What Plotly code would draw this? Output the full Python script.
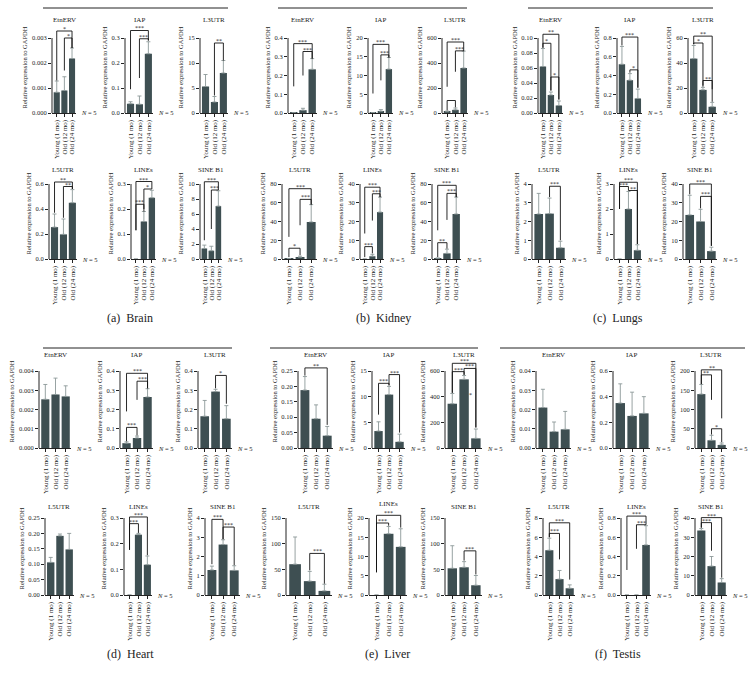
import plotly.graph_objects as go

W, H = 749, 679
categories = ["Young (1 mo)", "Old (12 mo)", "Old (24 mo)"]
genes = ["EtnERV", "IAP", "L3UTR", "L5UTR", "LINEs", "SINE B1"]
captions = ["(a)  Brain", "(b)  Kidney", "(c)  Lungs", "(d)  Heart", "(e)  Liver", "(f)  Testis"]

# ---------------- data (mean, top of error bar, y ticks, tick decimals, brackets) -------------
# bracket: (bar_i, bar_j, height, label, leg_bottom_i, leg_bottom_j)
brain_mean = [[0.00083, 0.0009, 0.00218], [0.037, 0.035, 0.237], [5.3, 2.2, 8.0],
              [0.255, 0.197, 0.45], [0, 0.15, 0.245], [1.4, 1.1, 7.05]]
brain_errtop = [[0.00128, 0.00145, 0.0026], [0.045, 0.068, 0.285], [7.7, 3.3, 10.5],
                [0.36, 0.32, 0.555], [0, 0.19, 0.275], [1.85, 1.7, 9.1]]
brain_ticks = [[0, 0.001, 0.002, 0.003], [0, 0.1, 0.2, 0.3], [0, 5, 10, 15],
               [0, 0.2, 0.4, 0.6], [0, 0.1, 0.2, 0.3], [0, 2, 4, 6, 8, 10]]
brain_dec = [3, 1, 0, 1, 1, 0]
brain_sig = [
    [(0, 2, 0.00328, "*", 0.0013, 0.0026), (1, 2, 0.003, "*", 0.0017, 0.0026)],
    [(0, 2, 0.33, "***", 0.095, 0.29), (1, 2, 0.297, "***", 0.14, 0.29)],
    [(1, 2, 14.0, "**", 3.5, 10.5)],
    [(0, 2, 0.616, "**", 0.37, 0.56), (1, 2, 0.58, "**", 0.33, 0.56)],
    [(0, 2, 0.31, "***", 0.115, 0.28), (1, 2, 0.28, "*", 0.2, 0.28), (0, 1, 0.219, "***", 0.115, 0.19)],
    [(0, 2, 10.3, "***", 2.5, 9.2), (1, 2, 9.2, "***", 4.0, 9.2)],
]

kidney_mean = [[0.001, 0.015, 0.233], [0.05, 0.45, 11.7], [10, 25, 360],
               [0.3, 1.8, 39.5], [0, 1.5, 25], [0.8, 6, 48]]
kidney_errtop = [[0.001, 0.025, 0.29], [0.1, 0.9, 14.8], [15, 40, 495],
                 [0.5, 3, 58], [0, 2.5, 33], [1, 10.5, 66]]
kidney_ticks = [[0, 0.1, 0.2, 0.3, 0.4], [0, 5, 10, 15, 20], [0, 200, 400, 600],
                [0, 20, 40, 60, 80], [0, 10, 20, 30, 40], [0, 20, 40, 60, 80]]
kidney_dec = [1, 0, 0, 0, 0, 0]
kidney_sig = [
    [(0, 2, 0.37, "***", 0.142, 0.29), (1, 2, 0.328, "***", 0.2, 0.29)],
    [(0, 2, 18.3, "***", 5.2, 14.8), (1, 2, 15.5, "***", 8.7, 14.8)],
    [(0, 2, 568, "***", 210, 495), (1, 2, 497, "***", 330, 495), (0, 1, 100, "", 20, 45)],
    [(0, 2, 75, "***", 23.6, 58), (1, 2, 63.6, "***", 36, 58), (0, 1, 11.5, "*", 2, 4)],
    [(0, 2, 38.3, "***", 13.6, 33), (1, 2, 34.8, "***", 20.5, 33), (0, 1, 6.6, "***", 1, 3)],
    [(0, 2, 78.6, "***", 30.6, 66), (1, 2, 70, "***", 41.7, 66), (0, 1, 17.4, "**", 2, 11)],
]

lungs_mean = [[0.062, 0.024, 0.01], [0.52, 0.35, 0.155], [43.5, 18.5, 5],
              [2.4, 2.42, 0.6], [0, 2.0, 0.35], [23.5, 20, 4.2]]
lungs_errtop = [[0.086, 0.028, 0.016], [0.71, 0.42, 0.255], [54, 20.5, 8.5],
                [3.5, 3.25, 0.95], [0, 2.7, 0.57], [34, 26.5, 6.3]]
lungs_ticks = [[0, 0.02, 0.04, 0.06, 0.08, 0.10], [0, 0.2, 0.4, 0.6, 0.8], [0, 20, 40, 60],
               [0, 1, 2, 3, 4], [0, 1, 2, 3], [0, 10, 20, 30, 40]]
lungs_dec = [2, 1, 0, 0, 0, 0]
lungs_sig = [
    [(0, 2, 0.105, "**", 0.087, 0.018), (0, 1, 0.093, "*", 0.087, 0.03), (1, 2, 0.048, "*", 0.03, 0.018)],
    [(0, 2, 0.81, "***", 0.72, 0.27), (1, 2, 0.46, "*", 0.43, 0.27)],
    [(0, 2, 61.5, "**", 55, 19), (0, 1, 56, "*", 55, 22), (1, 2, 26, "**", 21, 9)],
    [(1, 2, 3.88, "***", 3.3, 1.0)],
    [(0, 2, 3.07, "***", 2.0, 0.6), (0, 1, 2.9, "***", 2.0, 2.75), (1, 2, 2.74, "**", 2.75, 0.6)],
    [(0, 2, 40, "***", 34.5, 7), (1, 2, 33.4, "***", 27, 7)],
]

heart_mean = [[0.00253, 0.00278, 0.00268], [0.025, 0.052, 0.265], [0.165, 0.293, 0.152],
              [0.106, 0.192, 0.148], [0, 0.235, 0.118], [1.3, 2.62, 1.28]]
heart_errtop = [[0.0033, 0.00363, 0.00323], [0.032, 0.062, 0.308], [0.247, 0.305, 0.22],
                [0.122, 0.198, 0.2], [0, 0.24, 0.152], [1.5, 2.87, 1.52]]
heart_ticks = [[0, 0.001, 0.002, 0.003, 0.004], [0, 0.1, 0.2, 0.3, 0.4], [0, 0.1, 0.2, 0.3, 0.4],
               [0, 0.05, 0.1, 0.15, 0.2, 0.25], [0, 0.1, 0.2, 0.3], [0, 1, 2, 3, 4]]
heart_dec = [3, 1, 1, 2, 1, 0]
heart_sig = [
    [],
    [(0, 2, 0.388, "***", 0.19, 0.31), (1, 2, 0.347, "***", 0.25, 0.31), (0, 1, 0.107, "***", 0.035, 0.065)],
    [(1, 2, 0.377, "*", 0.31, 0.23)],
    [],
    [(0, 2, 0.304, "***", 0.176, 0.155), (0, 1, 0.278, "***", 0.176, 0.242)],
    [(0, 1, 3.93, "***", 1.6, 2.9), (1, 2, 3.53, "***", 2.9, 1.55)],
]

liver_mean = [[0.188, 0.095, 0.04], [3.3, 10.4, 1.2], [345, 535, 75],
              [60, 27, 8], [0, 15.9, 12.5], [52, 54, 19]]
liver_errtop = [[0.232, 0.14, 0.07], [5.1, 12, 2.7], [425, 565, 148],
                [113, 46, 21], [0, 17.8, 17.2], [96, 65, 38]]
liver_ticks = [[0, 0.05, 0.1, 0.15, 0.2, 0.25], [0, 5, 10, 15], [0, 200, 400, 600],
               [0, 50, 100, 150], [0, 5, 10, 15, 20], [0, 50, 100, 150]]
liver_dec = [2, 0, 0, 0, 0, 0]
liver_sig = [
    [(0, 2, 0.26, "**", 0.235, 0.075)],
    [(0, 1, 12.6, "***", 6.5, 12.2), (1, 2, 14.3, "***", 12.2, 3)],
    [(0, 2, 660, "***", 430, 160), (0, 1, 595, "***", 430, 570), (1, 2, 620, "***", 570, 160)],
    [(1, 2, 81, "***", 48, 22)],
    [(0, 2, 20.7, "***", 5.9, 17.5), (0, 1, 18.7, "***", 5.9, 18)],
    [(1, 2, 86, "***", 67, 40)],
]
liver_extra_marks = [(2, 2, 410, "*")]  # (subplot, bar, height, label)

testis_mean = [[0.021, 0.0085, 0.0097], [0.35, 0.25, 0.27], [140, 20, 8],
               [4.65, 1.65, 0.7], [0, 0, 0.52], [33.5, 15, 6.5]]
testis_errtop = [[0.0305, 0.0135, 0.019], [0.5, 0.435, 0.4], [165, 33, 13],
                 [5.9, 2.55, 1.05], [0, 0, 0.72], [34.5, 20, 8.5]]
testis_ticks = [[0, 0.01, 0.02, 0.03, 0.04], [0, 0.2, 0.4, 0.6], [0, 50, 100, 150, 200],
                [0, 2, 4, 6, 8], [0, 0.2, 0.4, 0.6, 0.8], [0, 10, 20, 30, 40]]
testis_dec = [2, 1, 0, 0, 1, 0]
testis_sig = [
    [], [],
    [(0, 2, 203, "**", 166, 77), (0, 1, 190, "**", 166, 125), (1, 2, 50, "*", 35, 15)],
    [(0, 2, 7.5, "***", 6, 1.6), (0, 1, 6.4, "***", 6, 3.7)],
    [(0, 2, 0.82, "***", 0.26, 0.73), (1, 2, 0.73, "***", 0.48, 0.73)],
    [(0, 2, 40.2, "***", 35, 9), (0, 1, 37.6, "***", 35, 23)],
]

tissue_data = [
    (brain_mean, brain_errtop, brain_ticks, brain_dec, brain_sig, []),
    (kidney_mean, kidney_errtop, kidney_ticks, kidney_dec, kidney_sig, []),
    (lungs_mean, lungs_errtop, lungs_ticks, lungs_dec, lungs_sig, []),
    (heart_mean, heart_errtop, heart_ticks, heart_dec, heart_sig, []),
    (liver_mean, liver_errtop, liver_ticks, liver_dec, liver_sig, liver_extra_marks),
    (testis_mean, testis_errtop, testis_ticks, testis_dec, testis_sig, []),
]

# ---------------- geometry (pixels) ----------------
row_zero = [113, 259, 448, 595]
row_top = [38, 184, 371, 518]
row_title = [20, 170, 355, 507]
title_shift = {(4, 4): -3}
geom = [
    [(52, 76), (125, 153), (200, 228), (49, 77), (131, 156), (200, 222)],
    [(288, 317), (368, 393), (442, 468), (282, 317), (360, 384), (432, 461)],
    [(538, 563), (617, 642), (688, 717), (532, 566), (614, 642), (683, 717)],
    [(39, 71), (120, 153), (198, 232), (45, 74), (124, 152), (205, 240)],
    [(298, 333), (372, 405), (445, 482), (286, 332), (369, 407), (445, 482)],
    [(536, 571), (613, 650), (695, 727), (543, 575), (621, 651), (695, 727)],
]
caption_pos = [(130, 318), (383, 318), (618, 318), (130, 654), (387, 654), (618, 654)]
header_lines = [(43, 228, 8), (278, 467, 8), (528, 713, 8), (43, 232, 348), (270, 478, 348), (500, 745, 348)]

FONT = "Liberation Serif"
BAR = "#3e4f52"
ERR = "#8c9899"
INK = "#222222"

fig = go.Figure()
annotations, shapes = [], []
layout_axes = {}


def px_x(p):
    return p / W


def px_y(p):
    return 1 - p / H


k = 0
for t, (means, errtops, ticks, decs, sigs, extras) in enumerate(tissue_data):
    half = t // 3
    for g in range(6):
        k += 1
        sfx = "" if k == 1 else str(k)
        row = half * 2 + g // 3
        ax0, ax1 = geom[t][g]
        y0p, ytp = row_zero[row], row_top[row]
        domtop = ytp - 16
        top_tick = ticks[g][-1]
        R = top_tick * (y0p - domtop) / (y0p - ytp)

        m = means[g]
        e = [max(a - b, 0) for a, b in zip(errtops[g], m)]
        fig.add_trace(go.Bar(
            x=[0, 1, 2], y=m, width=0.8, marker=dict(color=BAR, line=dict(width=0)),
            error_y=dict(type="data", symmetric=False, array=e, arrayminus=[0, 0, 0],
                         color=ERR, thickness=0.9, width=2),
            xaxis="x" + sfx, yaxis="y" + sfx, showlegend=False, hoverinfo="skip"))

        layout_axes["xaxis" + sfx] = dict(
            domain=[px_x(ax0), px_x(ax1)], anchor="y" + sfx, range=[-0.62, 2.52],
            tickvals=[0, 1, 2], ticktext=categories, tickangle=-90,
            tickfont=dict(family=FONT, size=7, color=INK),
            showline=True, linecolor=INK, linewidth=1, ticks="outside", ticklen=3,
            tickcolor=INK, tickwidth=1, showgrid=False, zeroline=False, automargin=False,
            fixedrange=True)
        layout_axes["yaxis" + sfx] = dict(
            domain=[px_y(y0p), px_y(domtop)], anchor="x" + sfx, range=[0, R],
            tickvals=ticks[g], ticktext=[f"{v:.{decs[g]}f}" for v in ticks[g]],
            tickfont=dict(family=FONT, size=6.5, color=INK),
            ticks="outside", ticklen=3, tickcolor=INK, tickwidth=1,
            showline=False, showgrid=False, zeroline=False, automargin=False,
            title=dict(text="Relative expression to GAPDH", font=dict(family=FONT, size=6.5, color=INK),
                       standoff=3),
            fixedrange=True)
        # y axis line from 0 up to the top tick
        shapes.append(dict(type="line", xref=f"x{sfx} domain", yref="y" + sfx,
                           x0=0, x1=0, y0=0, y1=top_tick, line=dict(color=INK, width=1)))
        # brackets
        for (i, j, yy, lab, lo_i, lo_j) in sigs[g]:
            shapes.append(dict(type="path", xref="x" + sfx, yref="y" + sfx,
                               path=f"M {i},{lo_i} L {i},{yy} L {j},{yy} L {j},{lo_j}",
                               line=dict(color="#111111", width=0.9)))
            if lab:
                annotations.append(dict(xref="x" + sfx, yref="y" + sfx, x=(i + j) / 2, y=yy,
                                        text=lab, showarrow=False, yanchor="bottom", yshift=-3,
                                        font=dict(family=FONT, size=6, color=INK)))
        for (sg, b, yy, lab) in extras:
            if sg == g:
                annotations.append(dict(xref="x" + sfx, yref="y" + sfx, x=b - 0.45, y=yy,
                                        text=lab, showarrow=False,
                                        font=dict(family=FONT, size=6, color=INK)))
        # subplot title
        ty = row_title[row] + title_shift.get((t, g), 0)
        annotations.append(dict(xref="paper", yref="paper", x=px_x((ax0 + ax1) / 2), y=px_y(ty),
                                text=genes[g], showarrow=False, xanchor="center", yanchor="middle",
                                font=dict(family=FONT, size=7, color=INK)))
        # N = 5
        annotations.append(dict(xref="paper", yref="paper", x=px_x(ax1 + 3), y=px_y(y0p),
                                text="<i>N</i> = 5", showarrow=False, xanchor="left", yanchor="middle",
                                font=dict(family=FONT, size=6.5, color=INK)))

for t, (cx, cy) in enumerate(caption_pos):
    annotations.append(dict(xref="paper", yref="paper", x=px_x(cx), y=px_y(cy), text=captions[t],
                            showarrow=False, xanchor="center", yanchor="middle",
                            font=dict(family=FONT, size=12, color=INK)))
for (x0, x1, yy) in header_lines:
    shapes.append(dict(type="line", xref="paper", yref="paper", x0=px_x(x0), x1=px_x(x1),
                       y0=px_y(yy), y1=px_y(yy), line=dict(color=INK, width=1)))

fig.update_layout(
    template="none", width=W, height=H, autosize=False,
    margin=dict(l=0, r=0, t=0, b=0, pad=0),
    paper_bgcolor="white", plot_bgcolor="rgba(0,0,0,0)",
    font=dict(family=FONT, color=INK), bargap=0.1,
    annotations=annotations, shapes=shapes, showlegend=False,
    **layout_axes)

fig.write_html("out.html", config={"displayModeBar": False},
               post_script="document.body.style.margin='0';document.body.style.padding='0';")
